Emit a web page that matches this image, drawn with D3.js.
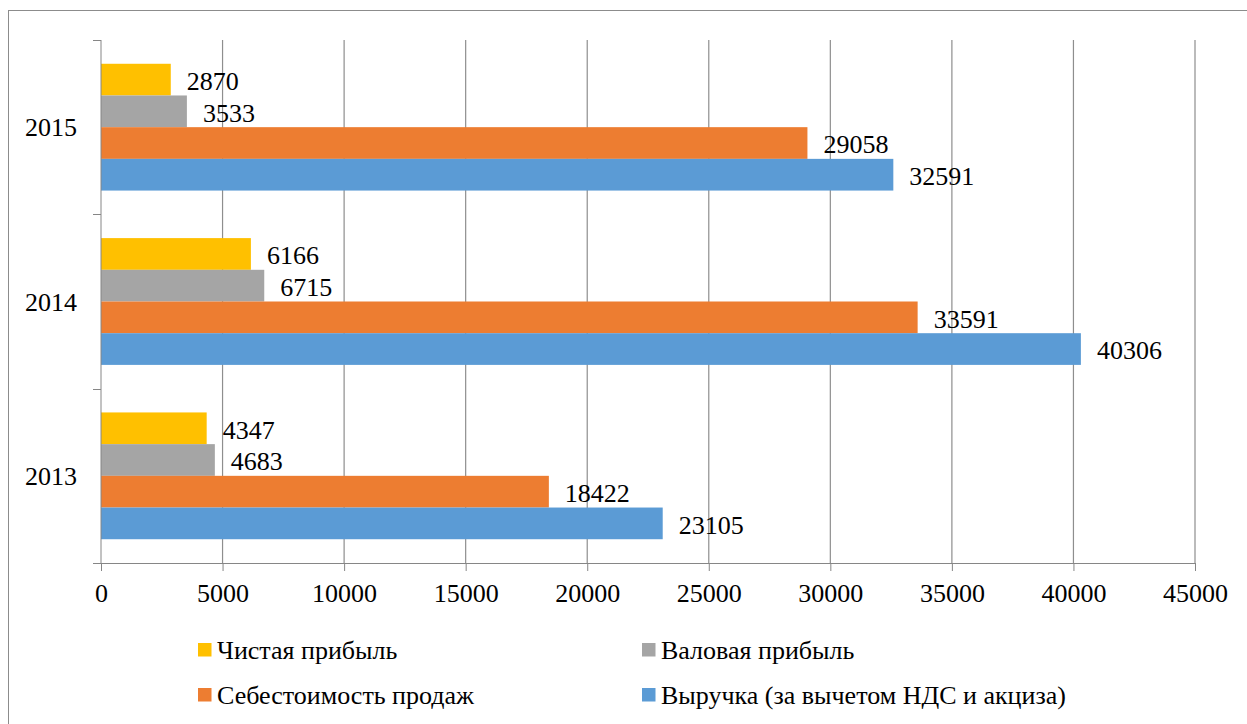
<!DOCTYPE html>
<html>
<head>
<meta charset="utf-8">
<script src="https://cdn.jsdelivr.net/npm/d3@7"></script>
<style>
  body { margin: 0; background: #fff; }
</style>
</head>
<body>
<div id="chart"></div>
<script>
var years = ["2013", "2014", "2015"];
var seriesNames = ["Чистая прибыль", "Валовая прибыль", "Себестоимость продаж", "Выручка (за вычетом НДС и акциза)"];
var netProfit = [4347, 6166, 2870];
var grossProfit = [4683, 6715, 3533];
var salesCost = [18422, 33591, 29058];
var revenue = [23105, 40306, 32591];
var seriesColors = ["#FFC000", "#A5A5A5", "#ED7D31", "#5B9BD5"];
var xTicks = [0, 5000, 10000, 15000, 20000, 25000, 30000, 35000, 40000, 45000];

var seriesValues = [netProfit, grossProfit, salesCost, revenue];
var serif = "'Liberation Serif', serif";

var svgWidth = 1247, svgHeight = 724;
var plot = { left: 101, right: 1195, top: 40, bottom: 563 };

var svg = d3.select("#chart").append("svg")
  .attr("width", svgWidth)
  .attr("height", svgHeight);

// outer frame
svg.append("rect")
  .attr("x", 8.5).attr("y", 10.5)
  .attr("width", 1260).attr("height", 730)
  .attr("fill", "none").attr("stroke", "#8c8c8c").attr("stroke-width", 1);

var x = d3.scaleLinear().domain([0, 45000]).range([plot.left, plot.right]);
var y0 = d3.scaleBand().domain(years).range([plot.bottom, plot.top]);
var y1 = d3.scaleBand().domain(seriesNames).range([0, y0.bandwidth()]).paddingOuter(0.75).paddingInner(0);

// gridlines
svg.append("g").selectAll("line")
  .data(xTicks.slice(1))
  .enter().append("line")
  .attr("x1", d => x(d)).attr("x2", d => x(d))
  .attr("y1", plot.top).attr("y2", plot.bottom)
  .attr("stroke", "#8e8e8e").attr("stroke-width", 1.2);

// bars
var rows = [];
years.forEach(function(yr, i) {
  seriesNames.forEach(function(s, j) {
    rows.push({ year: yr, series: s, value: seriesValues[j][i], color: seriesColors[j] });
  });
});

svg.append("g").selectAll("rect")
  .data(rows)
  .enter().append("rect")
  .attr("x", x(0))
  .attr("y", d => y0(d.year) + y1(d.series))
  .attr("width", d => x(d.value) - x(0))
  .attr("height", y1.bandwidth())
  .attr("fill", d => d.color);

// value labels
svg.append("g").selectAll("text")
  .data(rows)
  .enter().append("text")
  .attr("x", d => x(d.value) + 16)
  .attr("y", d => y0(d.year) + y1(d.series) + y1.bandwidth() / 2)
  .attr("dy", "0.4em")
  .style("font-family", serif)
  .style("font-size", "26px")
  .text(d => d.value);

// bottom axis
var bottomAxis = d3.axisBottom(x).tickValues(xTicks).tickFormat(d3.format("d"))
  .tickSizeInner(8).tickSizeOuter(0).tickPadding(13);
var gx = svg.append("g")
  .attr("transform", `translate(0, ${plot.bottom})`)
  .call(bottomAxis);
gx.attr("font-family", null).attr("font-size", null);
gx.select(".domain").attr("stroke", "#868686").attr("d", `M${plot.left - 8},0.5H${plot.right}`);
gx.selectAll(".tick line").attr("stroke", "#868686");
gx.selectAll(".tick text")
  .style("font-family", serif)
  .style("font-size", "26px")
  .attr("fill", "#000");

// left axis: line, boundary ticks, centered labels
var gy = svg.append("g");
gy.append("line")
  .attr("x1", plot.left).attr("x2", plot.left)
  .attr("y1", plot.top).attr("y2", plot.bottom)
  .attr("stroke", "#868686");
var bounds = years.map(d => y0(d)).concat([plot.bottom]);
gy.selectAll(".bt").data(bounds).enter().append("line")
  .attr("class", "bt")
  .attr("x1", plot.left - 8).attr("x2", plot.left)
  .attr("y1", d => Math.round(d) + 0.5).attr("y2", d => Math.round(d) + 0.5)
  .attr("stroke", "#868686");
gy.selectAll("text").data(years).enter().append("text")
  .attr("x", plot.left - 24)
  .attr("y", d => y0(d) + y0.bandwidth() / 2)
  .attr("dy", "0.35em")
  .attr("text-anchor", "end")
  .style("font-family", serif)
  .style("font-size", "26px")
  .text(d => d);

// legend
var legendPos = [
  { x: 198, y: 650 }, { x: 642, y: 650 },
  { x: 198, y: 695 }, { x: 642, y: 695 }
];
var legend = svg.append("g").selectAll("g")
  .data(seriesNames)
  .enter().append("g")
  .attr("transform", (d, i) => `translate(${legendPos[i].x}, ${legendPos[i].y})`);
legend.append("rect")
  .attr("x", 0).attr("y", -7)
  .attr("width", 13.5).attr("height", 13.5)
  .attr("fill", (d, i) => seriesColors[i]);
legend.append("text")
  .attr("x", 19).attr("y", 0)
  .attr("dy", "0.35em")
  .style("font-family", serif)
  .style("font-size", "26px")
  .text(d => d);
</script>
</body>
</html>
